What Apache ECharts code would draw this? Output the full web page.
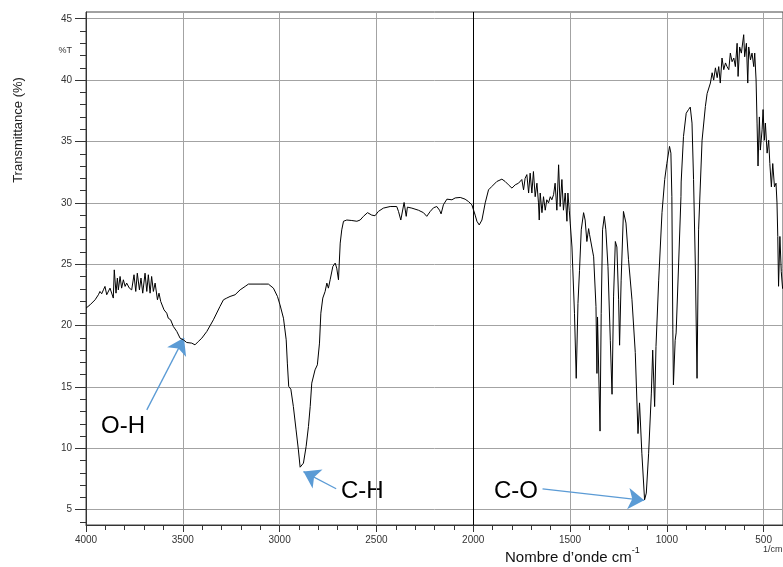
<!DOCTYPE html>
<html>
<head>
<meta charset="utf-8">
<script src="https://cdn.jsdelivr.net/npm/echarts@6/dist/echarts.min.js"></script>
<style>html,body{margin:0;padding:0;background:#fff}#c{width:783px;height:567px}</style>
</head>
<body>
<div id="c"></div>
<script>
// Wavenumber (cm-1) and transmittance (%)
const wavenumbers = [
4000,3979,3953,3936,3928,3919,3910,3902,3893,3876,3859,3854,3845,3838,3833,3824,3816,3807,3798,3790,
3776,3764,3752,3743,3735,3724,3716,3707,3695,3686,3678,3669,3661,3652,3643,3631,3623,3614,3597,3583,
3575,3563,3549,3531,3514,3497,3480,3454,3437,3420,3402,3376,3342,3308,3290,3273,3256,3230,3204,3178,
3161,3101,3058,3032,3011,2998,2980,2966,2960,2953,2942,2929,2915,2903,2894,2886,2877,2863,2851,2842,
2834,2817,2805,2794,2787,2777,2765,2756,2748,2739,2725,2713,2705,2696,2687,2679,
2670,2653,2627,2601,2584,2567,2546,2524,2507,2490,2464,2429,2395,2386,2374,2365,2357,2346,2340,2317,
2283,2257,2240,2222,2205,2188,2174,2166,2154,2136,2110,2093,2067,2042,2024,2007,1990,1981,1969,1955,
1938,1921,1904,1878,1852,1835,1818,1800,1783,1766,1749,1740,1732,1723,1714,1706,1697,1689,1680,1671,
1663,1659,1654,1645,1637,1628,1620,1611,1602,1594,1585,1577,1568,1559,1551,1542,1534,1525,1516,1511,1504,
1499,1490,1477,1468,1459,1451,1442,1430,1422,1413,1404,1399,1390,1378,1366,1361,1358,1345,1339,1332,
1323,1315,1304,1292,1283,1275,1266,1258,1249,1244,1236,1224,1211,1198,1180,1163,1149,1141,1129,1115,
1106,1094,1080,1073,1063,1056,1042,1025,1011,
1000,986,979,974,969,966,957,952,939,927,926,914,900,888,879,870,862,853,844,836,
818,801,792,775,766,758,749,740,732,724,715,706,697,689,680,672,663,654,646,637,
632,624,615,603,598,589,582,577,568,560,551,546,539,534,529,522,517,508,503,496,
491,482,474,468,460,453,444,436,431,427,423,416,409,402
];
const transmittance = [
21.42,21.69,22.10,22.51,22.78,22.59,22.91,23.19,22.51,23.05,22.24,24.54,22.64,23.87,22.91,24.0,23.05,23.73,23.19,23.46,
23.05,22.91,24.14,22.78,24.27,22.91,23.87,22.64,24.27,22.78,24.14,22.64,24.0,22.78,23.46,22.10,22.64,21.96,21.28,21.01,
20.60,20.47,19.93,19.52,18.97,18.84,18.62,18.57,18.43,18.70,18.97,19.52,20.47,21.56,22.10,22.24,22.37,22.51,22.91,23.19,
23.38,23.38,23.38,23.05,22.37,21.69,20.60,18.84,16.94,15.04,14.82,13.41,11.50,9.87,8.46,8.30,8.79,10.15,11.78,13.41,
15.31,16.39,16.80,18.57,21.01,22.24,22.78,23.46,23.05,23.73,24.82,25.09,24.68,23.73,26.72,27.8,
28.5,28.6,28.56,28.5,28.6,28.9,29.2,29.0,28.95,29.3,29.57,29.7,29.7,29.3,28.6,28.75,30.03,28.9,29.65,29.57,
29.4,29.2,28.9,29.3,29.6,29.7,29.4,29.1,29.84,30.3,30.25,30.4,30.44,30.3,30.1,29.84,29.0,28.5,28.2,28.6,
30.0,31.06,31.33,31.74,31.93,31.74,31.47,31.2,31.47,31.6,31.9,31.06,32.0,32.3,30.8,32.42,30.8,32.55,30.5,31.6,
30.0,28.6,30.8,29.2,30.5,29.4,30.25,30.0,30.5,30.25,30.66,31.6,29.4,33.1,29.7,31.9,29.4,30.8,28.5,30.8,29.4,
28.35,26.4,21.0,15.7,21.8,24.5,27.8,29.2,28.6,26.85,27.9,27.4,27.5,25.6,21.55,16.1,20.7,11.4,21.0,27.8,
28.9,27.8,24.8,18.8,14.4,22.4,26.85,26.4,22.1,18.4,23.7,29.3,28.35,25.4,22.1,17.8,11.2,13.7,9.6,5.8,
6.35,9.6,14.5,18.0,13.4,18.3,23.7,29.2,31.9,
33.2,34.6,34.05,30.5,19.65,15.17,18.8,19.4,25.1,30.5,31.7,35.4,37.3,37.6,37.8,36.5,31.9,25.1,15.7,27.8,
35.1,37.85,38.9,39.76,40.6,40.0,41.0,40.2,41.1,39.76,41.8,40.85,41.4,41.1,40.85,42.2,41.5,41.8,41.1,43.0,
40.3,42.7,42.2,43.7,41.9,43.0,39.76,42.7,41.65,42.2,41.1,42.2,40.0,36.5,33.0,37.0,34.3,35.95,37.6,35.1,
36.5,34.05,35.1,33.2,31.3,33.2,31.3,31.6,30.0,27.26,23.2,27.26,24.4,23.0
];

const xMajorTicks = [500,1000,1500,2000,2500,3000,3500,4000];
const xMinorTicks = [600,700,800,900,1100,1200,1300,1400,1600,1700,1800,1900,2100,2200,2300,2400,
  2600,2700,2800,2900,3100,3200,3300,3400,3600,3700,3800,3900];
const yMajorTicks = [5,10,15,20,25,30,35,40,45];
const yMinorTicks = [4,6,7,8,9,11,12,13,14,16,17,18,19,21,22,23,24,26,27,28,29,31,32,33,34,36,37,38,39,41,42,43,44];

// Annotation arrows: from [wn, T] to [wn, T]
const arrowOH = [[3686, 13.13], [3494, 19.0]];
const arrowCH = [[2708, 6.70], [2877, 8.10]];
const arrowCO = [[1642, 6.70], [1117, 5.76]];

const chart = echarts.init(document.getElementById('c'), null, {renderer: 'canvas'});
const FONT = 'Liberation Sans, Arial, sans-serif';
const tickColor = '#333';
const gridColor = '#a3a3a3';
const plain = (v) => String(v);

const arrowItem = (a) => [
  {coord: a[0], symbol: 'none'},
  {coord: a[1], symbol: 'arrow'}
];

chart.setOption({
  animation: false,
  backgroundColor: '#fff',
  grid: {left: 86, right: 0, top: 12, bottom: 42, show: true, borderColor: '#444', borderWidth: 1, backgroundColor: 'transparent'},
  xAxis: [
    {
      type: 'value', inverse: true, min: 400, max: 4000, position: 'bottom',
      axisLine: {show: true, lineStyle: {color: '#333', width: 1}},
      axisTick: {show: true, customValues: xMajorTicks, length: 7, lineStyle: {color: tickColor}},
      axisLabel: {show: true, customValues: xMajorTicks, formatter: plain, fontSize: 10, color: '#333', fontFamily: FONT, margin: 10},
      splitLine: {show: true, lineStyle: {color: gridColor, width: 1}}
    },
    {
      type: 'value', inverse: true, min: 400, max: 4000, position: 'bottom',
      axisLine: {show: false},
      axisTick: {show: true, customValues: xMinorTicks, length: 5, lineStyle: {color: tickColor}},
      axisLabel: {show: false},
      splitLine: {show: false}
    }
  ],
  yAxis: [
    {
      type: 'value', min: 3.75, max: 45.55, position: 'left',
      axisLine: {show: true, lineStyle: {color: '#333', width: 1}},
      axisTick: {show: true, customValues: yMajorTicks, length: 11, lineStyle: {color: tickColor}},
      axisLabel: {show: true, customValues: yMajorTicks, formatter: plain, fontSize: 10, color: '#333', fontFamily: FONT, margin: 14},
      splitLine: {show: true, lineStyle: {color: gridColor, width: 1}}
    },
    {
      type: 'value', min: 3.75, max: 45.55, position: 'left',
      axisLine: {show: false},
      axisTick: {show: true, customValues: yMinorTicks, length: 6, lineStyle: {color: tickColor}},
      axisLabel: {show: false},
      splitLine: {show: false}
    }
  ],
  series: [{
    type: 'line',
    xAxisIndex: 0, yAxisIndex: 0,
    data: wavenumbers.map((w, i) => [w, transmittance[i]]),
    showSymbol: false, symbol: 'none',
    lineStyle: {color: '#000', width: 1},
    z: 5,
    markLine: {
      silent: true, animation: false,
      symbol: ['none', 'none'], symbolSize: 16,
      label: {show: false},
      emphasis: {disabled: true},
      data: [
        {xAxis: 2000, lineStyle: {color: '#000', width: 1, type: 'solid'}},
        arrowItem(arrowOH), arrowItem(arrowCH), arrowItem(arrowCO)
      ],
      lineStyle: {color: '#5B9BD5', width: 1.3, type: 'solid'}
    }
  }],
  graphic: [
    {type: 'text', x: 18, y: 130, rotation: Math.PI / 2,
     style: {text: 'Transmittance (%)', font: '13px ' + FONT, fill: '#222', align: 'center', verticalAlign: 'middle'}},
    {type: 'text', x: 72, y: 51,
     style: {text: '%T', font: '9px ' + FONT, fill: '#333', align: 'right', verticalAlign: 'middle'}},
    {type: 'text', x: 763, y: 550,
     style: {text: '1/cm', font: '9px ' + FONT, fill: '#333', align: 'left', verticalAlign: 'middle'}},
    {type: 'text', x: 505, y: 546,
     style: {text: '{a|Nombre d’onde cm}{s|-1}', fill: '#111', align: 'left', verticalAlign: 'top',
       rich: {a: {fontSize: 15, fontFamily: FONT, lineHeight: 19, verticalAlign: 'bottom', fill: '#111'},
              s: {fontSize: 9, fontFamily: FONT, lineHeight: 19, verticalAlign: 'top', fill: '#111'}}}},
    {type: 'text', x: 101, y: 426,
     style: {text: 'O-H', font: '24px ' + FONT, fill: '#000', align: 'left', verticalAlign: 'middle'}},
    {type: 'text', x: 341, y: 491,
     style: {text: 'C-H', font: '24px ' + FONT, fill: '#000', align: 'left', verticalAlign: 'middle'}},
    {type: 'text', x: 494, y: 491,
     style: {text: 'C-O', font: '24px ' + FONT, fill: '#000', align: 'left', verticalAlign: 'middle'}}
  ]
});
</script>
</body>
</html>
